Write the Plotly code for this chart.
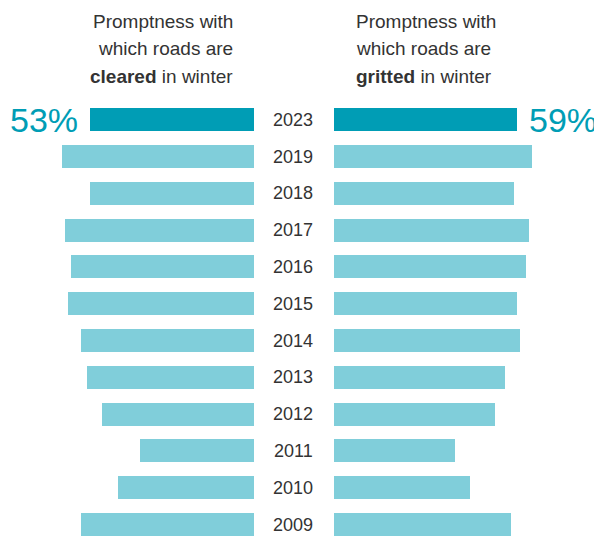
import plotly.graph_objects as go

# ---- data ----
years = ["2023", "2019", "2018", "2017", "2016", "2015", "2014", "2013", "2012", "2011", "2010", "2009"]
cleared = [53, 62, 53, 61, 59, 60, 56, 54, 49, 37, 44, 56]
gritted = [59, 64, 58, 63, 62, 59, 60, 55, 52, 39, 44, 57]
left_title = ["Promptness with", "which roads are", "<b>cleared</b> in winter"]
right_title = ["Promptness with", "which roads are", "<b>gritted</b> in winter"]
left_label = "53%"
right_label = "59%"

# ---- styling / layout ----
OFF = 8  # page body margin
W, H = 602 - OFF, 536 - OFF
PX_PER_PCT = 3.1
DARK = "#009db5"
LIGHT = "#80ceda"
TEXT = "#333333"
FONT = "Liberation Sans, Arial, sans-serif"

left_end = 254.3 - OFF
right_start = 333.7 - OFF


def px(x):
    return (x - OFF) / W


def py(y):
    return 1 - (y - OFF) / H


colors = [DARK] + [LIGHT] * (len(years) - 1)

fig = go.Figure()
fig.add_trace(go.Bar(
    y=years, x=cleared, orientation="h", xaxis="x", yaxis="y",
    marker=dict(color=colors, line=dict(width=0)), width=0.625,
    hoverinfo="x+y", showlegend=False,
))
fig.add_trace(go.Bar(
    y=years, x=gritted, orientation="h", xaxis="x2", yaxis="y",
    marker=dict(color=colors, line=dict(width=0)), width=0.625,
    hoverinfo="x+y", showlegend=False,
))

# y mapping: first category centre at 119.7px, spacing 36.8px (screen coords)
c0, sp = 119.7 - OFF, 36.8
y_top = -c0 / sp
y_bot = (H - c0) / sp

axis_common = dict(showgrid=False, zeroline=False, showticklabels=False,
                   showline=False, ticks="", fixedrange=True)

fig.update_layout(
    width=W, height=H,
    margin=dict(l=0, r=0, t=0, b=0, pad=0),
    paper_bgcolor="white", plot_bgcolor="white",
    font=dict(family=FONT, color=TEXT),
    xaxis=dict(domain=[0, left_end / W], range=[left_end / PX_PER_PCT, 0], **axis_common),
    xaxis2=dict(domain=[right_start / W, 1], range=[0, (W - right_start) / PX_PER_PCT],
                anchor="y", **axis_common),
    yaxis=dict(type="category", categoryarray=years, range=[y_bot, y_top], **axis_common),
    bargap=0,
)

ann = []
# year labels (category index positions)
for i, yr in enumerate(years):
    ann.append(dict(x=px(293.3), xref="paper", y=i, yref="y", text=yr, showarrow=False,
                    xanchor="center", yanchor="middle",
                    font=dict(size=18, color=TEXT, family=FONT)))

# titles (one annotation per line)
line_centres = [21.5, 48.5, 76]
for i, (lt, rt) in enumerate(zip(left_title, right_title)):
    ann.append(dict(x=px(234.5), xref="paper", y=py(line_centres[i]), yref="paper", text=lt,
                    showarrow=False, xanchor="right", yanchor="middle",
                    font=dict(size=19, color=TEXT, family=FONT)))
    ann.append(dict(x=px(354.3), xref="paper", y=py(line_centres[i]), yref="paper", text=rt,
                    showarrow=False, xanchor="left", yanchor="middle",
                    font=dict(size=19, color=TEXT, family=FONT)))

# highlighted percentages
ann.append(dict(x=px(80), xref="paper", y=0, yref="y", text=left_label, showarrow=False,
                xanchor="right", yanchor="middle",
                font=dict(size=34, color=DARK, family=FONT)))
ann.append(dict(x=px(527), xref="paper", y=0, yref="y", text=right_label, showarrow=False,
                xanchor="left", yanchor="middle",
                font=dict(size=34, color=DARK, family=FONT)))

fig.update_layout(annotations=ann)
fig.write_html("out.html")
